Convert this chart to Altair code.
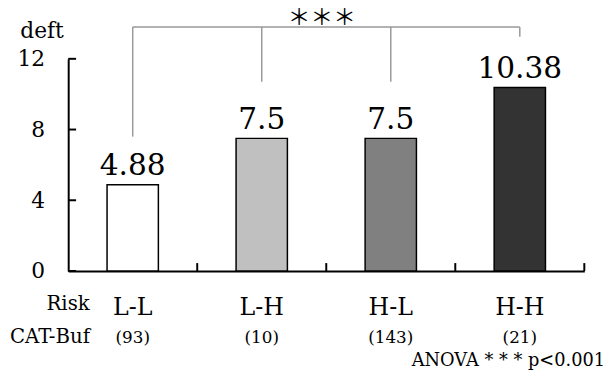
import altair as alt
import pandas as pd

# ---- data ----
risk = ["L-L", "L-H", "H-L", "H-H"]
counts = ["(93)", "(10)", "(143)", "(21)"]
deft = [4.88, 7.5, 7.5, 10.38]
bar_colors = ["#ffffff", "#c0c0c0", "#808080", "#333333"]
y_ticks = [0, 4, 8, 12]
bracket_top = 13.8
bracket_ends = [7.6, 10.7, 10.7, 13.25]

SERIF = "DejaVu Serif"

bars_df = pd.DataFrame({
    "risk": risk,
    "deft": deft,
    "label": [str(v) for v in deft],
    "n": counts,
})
ticks_df = pd.DataFrame({"deft": y_ticks})
cat_df = pd.DataFrame({"risk": risk})
one_df = pd.DataFrame({"k": [0]})
bracket_v_df = pd.DataFrame({
    "risk": risk,
    "deft": [bracket_top] * len(risk),
    "deft_end": bracket_ends,
})
bracket_h_df = pd.DataFrame({"risk": [risk[0]], "risk_end": [risk[-1]], "deft": [bracket_top]})

x_scale = alt.Scale(domain=risk, paddingInner=0, paddingOuter=0)
y_scale = alt.Scale(domain=[0, 12], nice=False)

bars = alt.Chart(bars_df).mark_bar(width=52, stroke="black", strokeWidth=1.5).encode(
    x=alt.X("risk:N", scale=x_scale, sort=risk, title=None,
            axis=alt.Axis(labels=False, ticks=False, domainColor="black", domainWidth=2, grid=False)),
    y=alt.Y("deft:Q", scale=y_scale, title="deft",
            axis=alt.Axis(values=y_ticks, ticks=False, tickSize=0, grid=False,
                          domainColor="black", domainWidth=2,
                          labelFont=SERIF, labelFontSize=22, labelColor="black", labelPadding=24,
                          titleAngle=0, titleX=-49, titleY=-22, titleAlign="left",
                          titleBaseline="alphabetic", titleFont=SERIF, titleFontSize=22,
                          titleFontWeight="normal", titleColor="black")),
    color=alt.Color("risk:N", scale=alt.Scale(domain=risk, range=bar_colors), legend=None),
)

values = alt.Chart(bars_df).mark_text(font=SERIF, fontSize=30, baseline="alphabetic", dy=-10, color="black").encode(
    x=alt.X("risk:N", sort=risk, title=None),
    y=alt.Y("deft:Q", title="deft"),
    text="label:N",
)

cat_labels = alt.Chart(bars_df).mark_text(font=SERIF, fontSize=24, baseline="alphabetic", color="black").encode(
    x=alt.X("risk:N", sort=risk, title=None),
    y=alt.value(260),
    text="risk:N",
)

n_labels = alt.Chart(bars_df).mark_text(font=SERIF, fontSize=17, baseline="alphabetic", color="black").encode(
    x=alt.X("risk:N", sort=risk, title=None),
    y=alt.value(288),
    text="n:N",
)

risk_title = alt.Chart(one_df).mark_text(text="Risk", font=SERIF, fontSize=20, align="left",
                                          baseline="alphabetic", color="black").encode(
    x=alt.value(-22), y=alt.value(255))

cat_title = alt.Chart(one_df).mark_text(text="CAT-Buf", font=SERIF, fontSize=20, align="left",
                                         baseline="alphabetic", color="black").encode(
    x=alt.value(-59), y=alt.value(288))

anova = alt.Chart(one_df).mark_text(text="ANOVA * * * p<0.001", font=SERIF, fontSize=18, align="right",
                                     baseline="alphabetic", color="black").encode(
    x=alt.value(544), y=alt.value(311))

y_tick_marks = alt.Chart(ticks_df).mark_rule(color="black", strokeWidth=2).encode(
    y=alt.Y("deft:Q", title="deft"),
    x=alt.value(0), x2=alt.value(8),
)

x_tick_marks = alt.Chart(cat_df).mark_rule(color="black", strokeWidth=2).encode(
    x=alt.X("risk:N", sort=risk, bandPosition=1, title=None),
    y=alt.value(215), y2=alt.value(207),
)

bracket_v = alt.Chart(bracket_v_df).mark_rule(color="#999999", strokeWidth=1.5).encode(
    x=alt.X("risk:N", sort=risk, title=None),
    y=alt.Y("deft:Q", title="deft"),
    y2="deft_end:Q",
)

bracket_h = alt.Chart(bracket_h_df).mark_rule(color="#999999", strokeWidth=1.5).encode(
    x=alt.X("risk:N", sort=risk, title=None, bandPosition=0.5),
    x2=alt.X2("risk_end:N", bandPosition=0.5),
    y=alt.Y("deft:Q", title="deft"),
)

sig = alt.Chart(one_df).mark_text(text="＊＊＊", font="Noto Sans CJK JP", fontSize=23,
                                   baseline="middle", color="black").encode(
    x=alt.value(257), y=alt.value(-41))

chart = alt.layer(
    bracket_v, bracket_h, bars, values, cat_labels, n_labels, risk_title, cat_title, anova,
    y_tick_marks, x_tick_marks, sig,
).properties(
    width=523, height=215,
    autosize=alt.AutoSizeParams(type="none"),
    padding={"left": 61, "top": 49, "right": 24, "bottom": 110},
    background="white",
).configure_view(stroke=None)

chart.save("out.html", embed_options={"renderer": "svg", "actions": False})
